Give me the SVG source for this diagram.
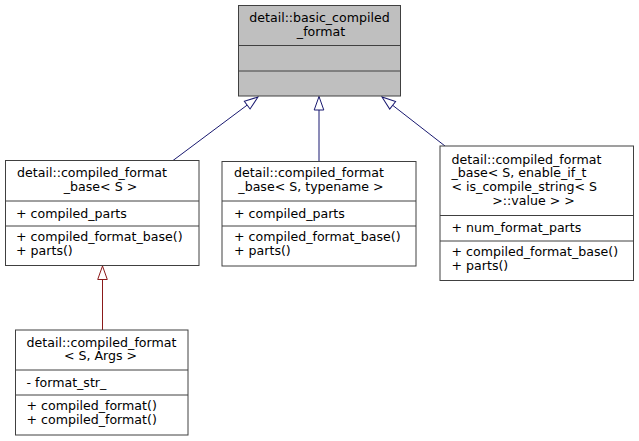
<svg xmlns="http://www.w3.org/2000/svg" width="639" height="441" viewBox="0 0 639 441">
<defs>
<style>
text{font-family:"DejaVu Sans","Liberation Sans",sans-serif;font-size:12.6px;fill:#000}
.c{text-anchor:middle}
.box{fill:#fff;stroke:#404040;stroke-width:1}
.root{fill:#bfbfbf;stroke:#404040;stroke-width:1}
.sep{stroke:#404040;stroke-width:1}
.pub{fill:none;stroke:#191970;stroke-width:1}
.priv{fill:none;stroke:#8b1a1a;stroke-width:1}
</style>
<marker id="triPub" viewBox="-15 -6 16 12" refX="0" refY="0" markerWidth="16" markerHeight="12" markerUnits="userSpaceOnUse" orient="auto">
<path d="M0,0 L-13.5,-4.8 L-13.5,4.8 Z" fill="#fff" stroke="#191970" stroke-width="1"/>
</marker>
<marker id="triPriv" viewBox="-15 -6 16 12" refX="0" refY="0" markerWidth="16" markerHeight="12" markerUnits="userSpaceOnUse" orient="auto">
<path d="M0,0 L-13.5,-4.8 L-13.5,4.8 Z" fill="#fff" stroke="#8b1a1a" stroke-width="1"/>
</marker>
</defs>
<rect width="639" height="441" fill="#fff"/>

<g id="connectors">
<path class="pub" d="M173,160.5 L258,97" marker-end="url(#triPub)"/>
<path class="pub" d="M319,161.5 L319,96.5" marker-end="url(#triPub)"/>
<path class="pub" d="M445,146 L382,97" marker-end="url(#triPub)"/>
<path class="priv" d="M102.5,330 L102.5,266" marker-end="url(#triPriv)"/>
</g>

<g id="node-basic_compiled_format">
<rect class="root" x="238.5" y="5.5" width="162" height="90.5"/>
<line class="sep" x1="238.5" y1="45.5" x2="400.5" y2="45.5"/>
<line class="sep" x1="238.5" y1="71" x2="400.5" y2="71"/>
<text class="c" x="319.5" y="22">detail::basic_compiled</text>
<text class="c" x="321" y="35.5">_format</text>
</g>

<g id="node-compiled_format_base_S">
<rect class="box" x="5.5" y="160.5" width="193.5" height="105"/>
<line class="sep" x1="5.5" y1="201" x2="199" y2="201"/>
<line class="sep" x1="5.5" y1="226" x2="199" y2="226"/>
<text x="17" y="177">detail::compiled_format</text>
<text class="c" x="100.5" y="190.5">_base&lt; S &gt;</text>
<text x="16" y="217.5">+ compiled_parts</text>
<text x="16" y="241">+ compiled_format_base()</text>
<text x="16" y="254.5">+ parts()</text>
</g>

<g id="node-compiled_format_base_S_typename">
<rect class="box" x="222" y="161.5" width="194" height="104.5"/>
<line class="sep" x1="222" y1="201" x2="416" y2="201"/>
<line class="sep" x1="222" y1="226" x2="416" y2="226"/>
<text x="234" y="177">detail::compiled_format</text>
<text class="c" x="311" y="190.5">_base&lt; S, typename &gt;</text>
<text x="234" y="217.5">+ compiled_parts</text>
<text x="234" y="241">+ compiled_format_base()</text>
<text x="234" y="254.5">+ parts()</text>
</g>

<g id="node-compiled_format_base_S_enable_if">
<rect class="box" x="440" y="146" width="193.5" height="134.5"/>
<line class="sep" x1="440" y1="215.5" x2="633.5" y2="215.5"/>
<line class="sep" x1="440" y1="241" x2="633.5" y2="241"/>
<text x="451.5" y="163.5">detail::compiled_format</text>
<text x="451.5" y="177">_base&lt; S, enable_if_t</text>
<text x="451.5" y="190.5">&lt; is_compile_string&lt; S</text>
<text class="c" x="533.5" y="204.5">&gt;::value &gt; &gt;</text>
<text x="451.5" y="231.5">+ num_format_parts</text>
<text x="451.5" y="256">+ compiled_format_base()</text>
<text x="451.5" y="269.5">+ parts()</text>
</g>

<g id="node-compiled_format_S_Args">
<rect class="box" x="15.5" y="330" width="172.5" height="105"/>
<line class="sep" x1="15.5" y1="370" x2="188" y2="370"/>
<line class="sep" x1="15.5" y1="395" x2="188" y2="395"/>
<text class="c" x="101.5" y="346.5">detail::compiled_format</text>
<text class="c" x="100.5" y="360">&lt; S, Args &gt;</text>
<text x="26.5" y="386.5">- format_str_</text>
<text x="26.5" y="410">+ compiled_format()</text>
<text x="26.5" y="423.5">+ compiled_format()</text>
</g>
</svg>
